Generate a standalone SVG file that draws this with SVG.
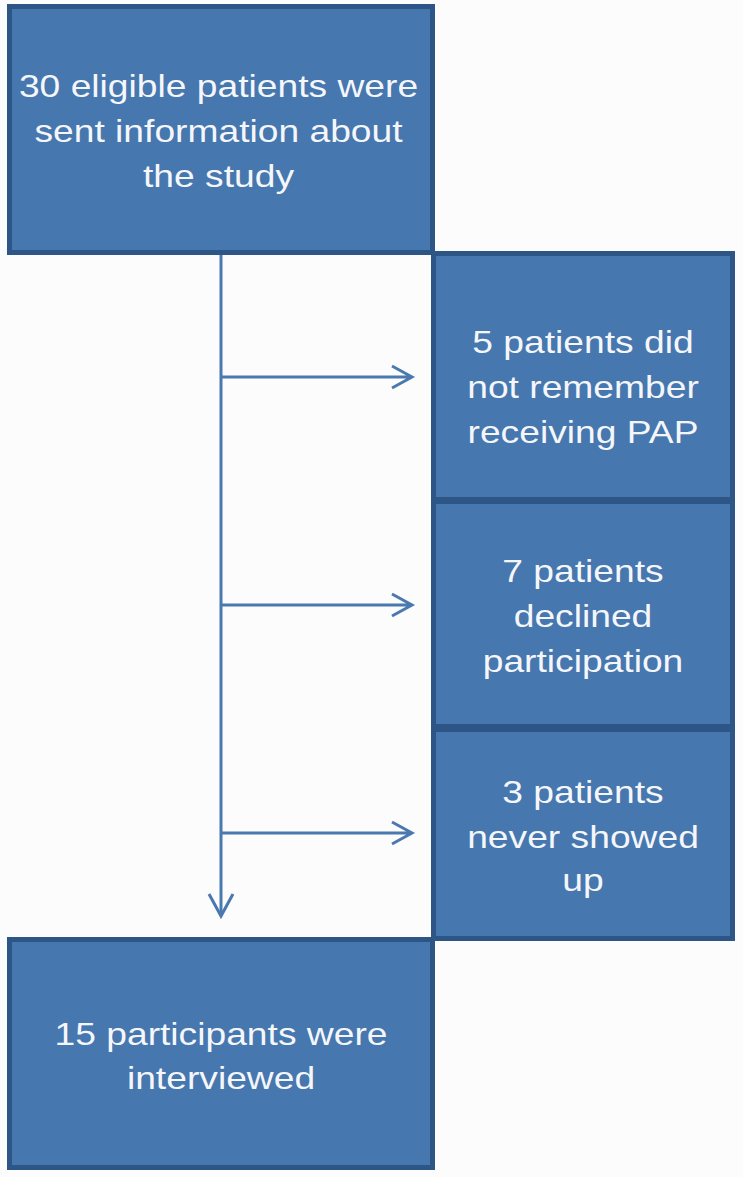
<svg xmlns="http://www.w3.org/2000/svg" width="743" height="1177" viewBox="0 0 743 1177">
<style>
.box{fill:#4677ae;stroke:#2d5586;stroke-width:5}
.t{font-family:"Liberation Sans",Arial,sans-serif;font-size:30.5px;fill:#f5f6fa;text-anchor:middle}
.c{stroke:#4a79b0;stroke-width:3;fill:none}
</style>
<rect width="743" height="1177" fill="#fdfcfd"/>
<g id="connectors">
<path class="c" d="M221,255 V916"/>
<path class="c" d="M209,894 L221,916 L233,894"/>
<path class="c" d="M221,377 H412 M392,366 L412,377 L392,388"/>
<path class="c" d="M221,605 H412 M392,594 L412,605 L392,616"/>
<path class="c" d="M221,833 H412 M392,822 L412,833 L392,844"/>
</g>
<g id="n1"><rect class="box" x="9.5" y="6.5" width="423" height="246"/>
<g class="t" transform="translate(218.5,0) scale(1.22,1)">
<text x="0" y="97">30 eligible patients were</text>
<text x="0" y="142">sent information about</text>
<text x="0" y="187">the study</text></g></g>
<g id="n2"><rect class="box" x="433.5" y="253.5" width="299" height="246"/>
<g class="t" transform="translate(583,0) scale(1.22,1)">
<text x="0" y="353">5 patients did</text>
<text x="0" y="398">not remember</text>
<text x="0" y="443">receiving PAP</text></g></g>
<g id="n3"><rect class="box" x="433.5" y="501.5" width="299" height="225"/>
<g class="t" transform="translate(583,0) scale(1.22,1)">
<text x="0" y="582">7 patients</text>
<text x="0" y="627">declined</text>
<text x="0" y="672">participation</text></g></g>
<g id="n4"><rect class="box" x="433.5" y="729.5" width="299" height="209"/>
<g class="t" transform="translate(583,0) scale(1.22,1)">
<text x="0" y="803">3 patients</text>
<text x="0" y="848">never showed</text>
<text x="0" y="891">up</text></g></g>
<g id="n5"><rect class="box" x="9.5" y="939.5" width="423" height="228"/>
<g class="t" transform="translate(221,0) scale(1.22,1)">
<text x="0" y="1045">15 participants were</text>
<text x="0" y="1089">interviewed</text></g></g>
</svg>
